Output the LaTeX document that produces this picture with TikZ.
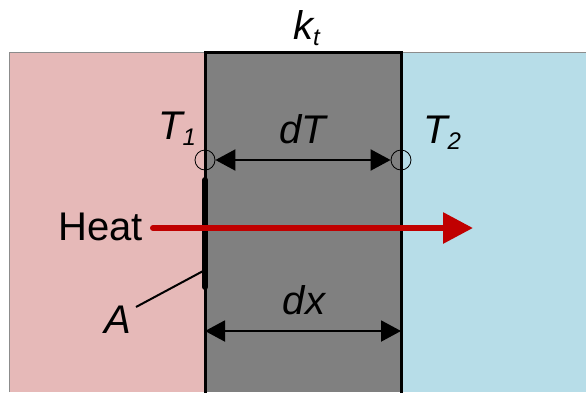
\documentclass[tikz,border=0pt]{standalone}
\usepackage{fontspec}
\setmainfont{Liberation Sans}
\usetikzlibrary{arrows.meta}
\definecolor{hotpink}{HTML}{E6B9B8}
\definecolor{coldblue}{HTML}{B7DDE8}
\definecolor{wallgray}{HTML}{808080}
\definecolor{heatred}{HTML}{C00000}
\newcommand\lowsub[1]{\raisebox{-6pt}{\fontsize{24}{28}\selectfont\itshape #1}}
\begin{document}
\begin{tikzpicture}[x=1pt,y=-1pt,
  lbl/.style={inner sep=0pt,font=\fontsize{40}{48}\selectfont\itshape},
  plain/.style={inner sep=0pt,font=\fontsize{40}{48}\selectfont},
  probe/.style={circle,draw,line width=0.8pt,minimum size=20pt,inner sep=0pt},
  dim/.style={line width=2pt,{Triangle[length=20pt,width=21pt]}-{Triangle[length=20pt,width=21pt]}},
  heatarrow/.style={draw=heatred,line width=6pt,line cap=round,-{Triangle[length=30pt,width=30pt]},fill=heatred}]
\useasboundingbox (0,0) rectangle (586,392);
% media
\fill[hotpink] (9,52) rectangle (205,392);
\draw[black!45,line width=1pt] (9,392) -- (9,52) -- (205,52);
\fill[coldblue] (401,52) rectangle (586,392);
\draw[black!45,line width=1pt] (401,52) -- (586,52);
\fill[wallgray] (205,52) rectangle (401,392);
\draw[line width=3pt] (205,393) -- (205,52) -- (401,52) -- (401,393);
% area segment
\draw[line width=6pt,line cap=round] (205,180) -- (205,287);
% labels
\node[lbl,anchor=base west] (kt) at (293,39) {k\lowsub{t}};
\node[lbl,anchor=base west] (T1) at (158,139) {T\lowsub{1}};
\node[lbl,anchor=base west] (T2) at (423,143) {T\lowsub{2}};
\node[lbl,anchor=base] (dT) at (303,143) {dT};
\node[lbl,anchor=base] (dx) at (304,314) {dx};
\node[lbl,anchor=base] (A) at (118,333) {A};
\node[plain,anchor=base east] (heat) at (143,240) {Heat};
% probes and dimension arrows
\node[probe] (c1) at (205,160) {};
\node[probe] (c2) at (401,160) {};
\draw[dim] (c1) -- (c2);
\coordinate (xa) at (205,331);
\coordinate (xb) at (401,331);
\draw[dim] (xa) -- (xb);
% A leader
\coordinate (aw) at (205,270);
\coordinate (al) at (136,307);
\draw[line width=2pt] (aw) -- (al);
% heat arrow
\coordinate (hs) at (153,228);
\coordinate (he) at (473,228);
\draw[heatarrow] (hs) -- (he);
\end{tikzpicture}
\end{document}
